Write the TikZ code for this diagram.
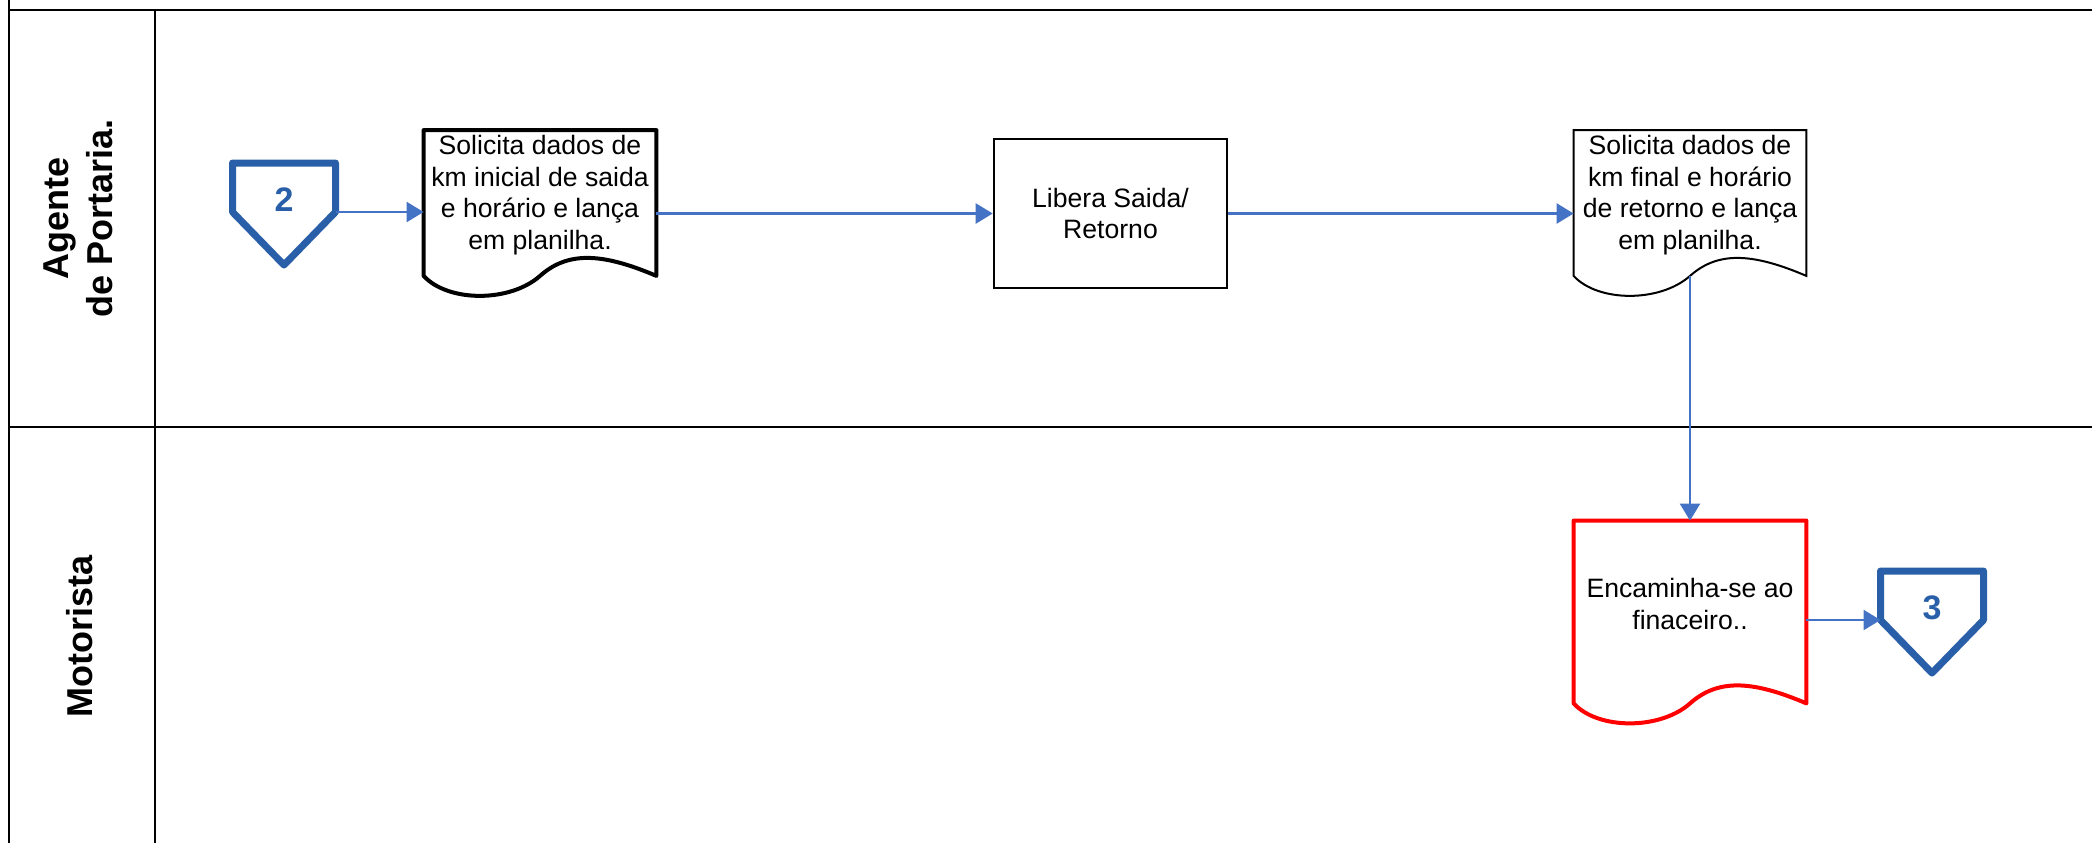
\documentclass[tikz,border=0pt]{standalone}
\usepackage{fontspec}
\setmainfont{Liberation Sans}
\usepackage{tikz}
\usetikzlibrary{arrows.meta}

\definecolor{portablue}{RGB}{41,95,168}
\definecolor{flowblue}{RGB}{68,114,196}

\newcommand{\drawoffpage}[1]{%
	\draw[offpage] ([shift={(-25.75pt,18.5pt)}]#1.center) -- ([shift={(25.75pt,18.5pt)}]#1.center)
		-- ([shift={(25.75pt,-6pt)}]#1.center) coordinate (#1-e) -- ([shift={(0pt,-32.5pt)}]#1.center)
		-- ([shift={(-25.75pt,-6pt)}]#1.center) coordinate (#1-w) -- cycle;}
\newcommand{\drawdoc}[2]{%
	\coordinate (#1-n) at ([yshift=-4pt]#1.north);
	\coordinate (#1-s) at ([yshift=-4pt]#1.south);
	\draw[#2] ([yshift=-4pt]#1.south west) -- ([yshift=-4pt]#1.north west) -- ([yshift=-4pt]#1.north east) -- ([yshift=-4pt]#1.south east)
		.. controls +(-28pt,12pt) and +(13.5pt,12pt) .. (#1-s)
		.. controls +(-15pt,-13.3pt) and +(12.3pt,-13.3pt) .. ([yshift=-4pt]#1.south west) -- cycle;}

\begin{document}
\begin{tikzpicture}[x=0.5pt, y=-0.5pt,
		lane/.style={line width=0.9pt},
		lanetitle/.style={rotate=90, align=center, font=\bfseries\fontsize{18}{22}\selectfont},
		docbox/.style={rectangle, inner sep=0pt, minimum width=116pt, minimum height=72.5pt, align=center, font=\fontsize{13.3}{15.8}\selectfont},
		procbox/.style={docbox, draw, line width=1.3pt, minimum width=116.5pt, minimum height=74.5pt},
		conntext/.style={font=\bfseries\fontsize{17}{20}\selectfont, text=portablue},
		offpage/.style={draw=portablue, line width=3.5pt, line join=round},
		flow/.style={draw=flowblue, line width=1.2pt, -{Triangle[length=8.5pt, width=10pt]}}]
	\useasboundingbox (0,0) rectangle (2092,843);
	\draw[lane] (9,0) -- (9,843);
	\draw[lane] (9,10) -- (2092,10);
	\draw[lane] (9,427) -- (2092,427);
	\draw[lane] (155,10) -- (155,843);
	\node[lanetitle] (agente) at (78,218) {Agente\\de Portaria.};
	\node[lanetitle] (motorista) at (80,636) {Motorista};
	\node[conntext] (c2) at (284,200) {2};
	\node[docbox] (d1) at (540,195) {Solicita dados de\\km inicial de saida\\e horário e lança\\em planilha.};
	\node[procbox] (r1) at (1110.5,213.5) {Libera Saida/\\Retorno};
	\node[docbox] (d2) at (1690,195) {Solicita dados de\\km final e horário\\de retorno e lança\\em planilha.};
	\node[docbox, minimum height=91pt] (d3) at (1690,604) {Encaminha-se ao\\finaceiro..};
	\node[conntext] (c3) at (1932,608) {3};
	\drawoffpage{c2}
	\drawoffpage{c3}
	\drawdoc{d1}{line width=2pt, line join=round}
	\drawdoc{d2}{line width=1pt}
	\drawdoc{d3}{draw=red, line width=2pt, line join=round}
	\draw[flow] (c2-e) -- (d1.west |- c2-e);
	\draw[flow] (d1.east |- r1.west) -- (r1.west);
	\draw[flow] (r1.east) -- (d2.west |- r1.east);
	\draw[flow] (d2-s) -- (d3-n);
	\draw[flow] (d3.east |- c3-w) -- (c3-w);
\end{tikzpicture}
\end{document}
